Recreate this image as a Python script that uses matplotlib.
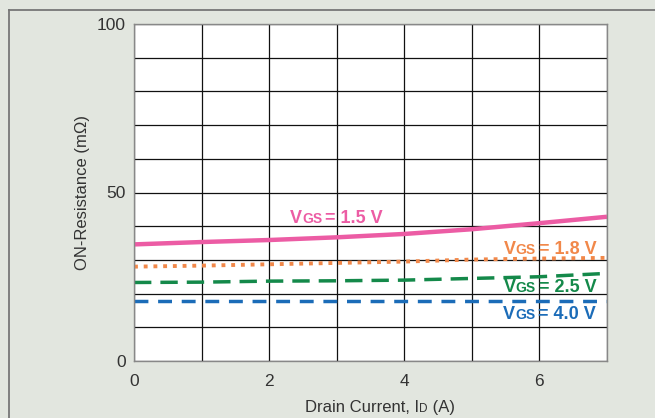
import numpy as np
import matplotlib.pyplot as plt
from matplotlib.transforms import offset_copy

# data
current = [0, 1, 2, 3, 4, 5, 6, 7]
r_15 = [34.6, 35.3, 35.9, 36.7, 37.7, 39.1, 40.9, 42.8]
r_18 = [28.0, 28.3, 28.7, 29.1, 29.5, 30.1, 30.4, 30.6]
r_25 = [23.3, 23.4, 23.7, 23.8, 24.0, 24.5, 25.0, 26.0]
r_40 = [17.9, 17.9, 17.9, 17.9, 17.9, 17.9, 17.9, 17.9]
labels = ["1.5", "1.8", "2.5", "4.0"]

pink = "#ec5ca4"
orange = "#f1884a"
green = "#14894a"
blue = "#1b6cb8"
bg = "#e2e6df"

plt.rcParams['font.family'] = ['Liberation Sans', 'DejaVu Sans']

fig = plt.figure(figsize=(6.55, 4.18), dpi=100, facecolor=bg)
# thin frame along top and left
fig.add_artist(plt.Line2D([9/655, 9/655], [0, 1 - 10/418], color="#777777", lw=1.3,
                          transform=fig.transFigure))
fig.add_artist(plt.Line2D([9/655, 1], [1 - 10/418, 1 - 10/418], color="#777777", lw=1.3,
                          transform=fig.transFigure))

ax = fig.add_axes([134/655, 1 - 361/418, 473/655, 337/418])
ax.set_facecolor("white")
ax.set_xlim(0, 7)
ax.set_ylim(0, 100)
ax.set_xticks([0, 2, 4, 6])
ax.set_yticks([0, 50, 100])
ax.set_xticks(np.arange(0, 8, 1), minor=True)
ax.set_yticks(np.arange(0, 101, 10), minor=True)
ax.grid(which="both", color="#111111", lw=0.9)
ax.tick_params(which="both", length=0, labelsize=12.5, colors="#333333")
ax.tick_params(axis="y", pad=6)
ax.tick_params(axis="x", pad=9)
for s in ax.spines.values():
    s.set_color("#888888")
    s.set_linewidth(1.0)

ax.plot(current, r_15, color=pink, lw=3.2, solid_capstyle="butt")
ax.plot(current, r_18, color=orange, lw=2.8, linestyle=(0, (1.0, 1.5)))
ax.plot(current, r_25, color=green, lw=2.5, linestyle=(0, (5.0, 2.6)))
ax.plot(current, r_40, color=blue, lw=2.5, linestyle=(0, (4.0, 2.8)))

ax.set_ylabel("ON-Resistance (m\u03a9)", fontsize=12, color="#333333", labelpad=5)

fig.canvas.draw()
renderer = fig.canvas.get_renderer()


def vgs_label(x, y, value, color, right=False):
    # "V" + smaller "GS" on the same baseline + "= x.x V"
    kw = dict(color=color, fontweight="bold", va="baseline", ha="left")
    parts = [("V", 13, 0), ("GS", 10, 3), ("= " + value + " V", 13, 0)]
    widths = []
    for s, fs, gap in parts:
        t = ax.text(0, 0, s, fontsize=fs, **kw)
        widths.append(t.get_window_extent(renderer).width + gap)
        t.remove()
    off = -sum(widths) if right else 0
    for (s, fs, gap), w in zip(parts, widths):
        ax.text(x, y, s, fontsize=fs,
                transform=offset_copy(ax.transData, fig=fig, x=off, y=0, units="dots"), **kw)
        off += w


vgs_label(2.31, 41.0, labels[0], pink)
vgs_label(6.84, 31.7, labels[1], orange, right=True)
vgs_label(6.84, 20.6, labels[2], green, right=True)
vgs_label(6.84, 12.4, labels[3], blue, right=True)

# x label with small "D"
xkw = dict(color="#333333", va="baseline", transform=fig.transFigure)
xparts = [("Drain Current, I", 12), ("D", 8.5), (" (A)", 12)]
xw = []
for s, fs in xparts:
    t = fig.text(0, 0, s, fontsize=fs, **xkw)
    xw.append(t.get_window_extent(renderer).width)
    t.remove()
x0 = 380 - sum(xw) / 2
yb = 1 - 412 / 418
for (s, fs), w in zip(xparts, xw):
    fig.text(x0 / 655, yb, s, fontsize=fs, **xkw)
    x0 += w

fig.savefig("out.png", dpi=100, facecolor=bg)
